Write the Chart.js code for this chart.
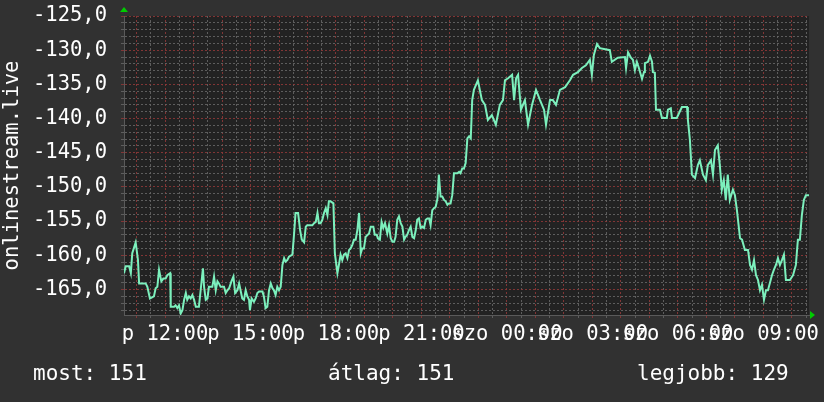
<!DOCTYPE html>
<html>
<head>
<meta charset="utf-8">
<script src="https://cdn.jsdelivr.net/npm/chart.js@4"></script>
<style>
  html, body { margin:0; padding:0; background:#313131; }
  #wrap { position:relative; width:824px; height:402px; }
  canvas { display:block; }
  .stat { position:absolute; top:363px; font-family:"DejaVu Sans Mono", monospace; font-size:21px; line-height:21px; color:#ffffff; white-space:pre; }
</style>
</head>
<body>
<div id="wrap">
  <canvas id="c" width="824" height="402"></canvas>
  <div class="stat" id="s0" style="left:33px"></div>
  <div class="stat" id="s1" style="left:328px"></div>
  <div class="stat" id="s2" style="left:637px"></div>
</div>
<script>
// ---- data (hours relative to 12:00 of the first day) ----
const hours = [
-1.44,-1.38,-1.26,-1.20,-1.15,-1.03,-0.95,-0.91,-0.80,-0.68,-0.62,-0.53,-0.39,-0.33,-0.27,-0.21,-0.13,-0.06,0.02,0.08,
0.18,0.20,0.32,0.37,0.43,0.49,0.55,0.61,0.67,0.73,0.78,0.84,0.90,0.96,1.02,1.08,1.19,1.25,1.33,1.37,
1.43,1.49,1.54,1.66,1.72,1.78,1.84,1.89,1.95,2.07,2.13,2.19,2.25,2.33,2.40,2.46,2.54,2.60,2.65,2.71,
2.77,2.83,2.89,2.95,2.98,3.04,3.12,3.18,3.24,3.30,3.42,3.47,3.53,3.59,3.65,3.71,3.77,3.82,3.88,3.94,
4.00,4.06,4.12,4.18,4.23,4.29,4.35,4.47,4.53,4.58,4.67,4.74,4.80,4.88,4.94,4.99,5.17,5.23,5.29,5.35,
5.40,5.46,5.52,5.58,5.64,5.70,5.75,5.81,5.91,5.96,6.05,6.11,6.16,6.22,6.28,6.34,6.40,6.46,6.51,6.57,
6.63,6.69,6.75,6.81,6.87,6.92,6.98,7.04,7.16,7.22,7.31,7.36,7.43,7.47,7.54,7.60,7.66,7.72,7.80,7.86,
7.92,7.98,8.04,8.09,8.15,8.21,8.27,8.33,8.39,8.44,8.50,8.56,8.62,8.68,8.74,8.80,8.85,8.91,8.97,9.03,
9.09,9.15,9.21,9.27,9.32,9.38,9.44,9.50,9.56,9.61,9.67,9.73,9.79,9.85,9.91,9.96,10.02,10.08,10.14,10.26,
10.32,10.37,10.43,10.49,10.55,10.61,10.67,10.73,10.78,10.84,10.98,11.12,11.23,11.33,11.47,11.61,11.75,11.86,11.93,12.04,
12.18,12.25,12.32,12.39,12.49,12.63,12.74,12.88,13.02,13.16,13.30,13.37,13.51,13.61,13.72,13.86,14.04,14.21,14.32,14.49,
14.63,14.77,14.91,14.98,15.05,15.16,15.26,15.61,15.68,15.89,16.14,16.18,16.25,16.35,16.42,16.49,16.56,16.63,16.74,16.81,
16.84,16.95,17.02,17.09,17.12,17.19,17.23,17.37,17.44,17.61,17.65,17.75,17.79,17.96,18.14,18.32,18.35,18.42,18.49,18.60,
18.70,18.77,18.88,18.98,19.05,19.16,19.23,19.30,19.40,19.47,19.54,19.61,19.68,19.75,19.82,19.93,20.00,20.07,20.18,20.25,
20.35,20.46,20.53,20.60,20.67,20.74,20.81,20.88,20.95,21.02,21.09,21.16,21.23,21.30,21.37,21.44,21.51,21.58,21.65,21.72,
21.79,21.93,22.04,22.14,22.21,22.28,22.35,22.42,22.49,22.60
];
const values = [
-162.6,-161.6,-161.6,-162.6,-159.7,-158.1,-160.7,-164.1,-164.1,-164.1,-164.6,-166.3,-166.0,-164.8,-164.6,-162.1,-163.8,-163.4,-163.4,-162.9,
-162.6,-167.5,-167.5,-167.3,-167.7,-167.3,-168.5,-168.0,-166.5,-165.5,-166.5,-166.0,-166.3,-165.8,-166.5,-167.5,-167.5,-165.1,-161.9,-164.6,
-166.5,-166.3,-164.6,-164.6,-163.1,-165.1,-163.8,-164.1,-164.6,-164.6,-165.5,-165.1,-164.8,-163.8,-163.1,-165.5,-165.1,-164.1,-165.1,-166.3,
-166.5,-165.1,-166.0,-166.5,-168.0,-166.3,-166.8,-166.3,-165.5,-165.3,-165.3,-166.0,-167.7,-167.5,-165.1,-164.1,-164.8,-165.1,-165.8,-164.6,
-165.1,-164.6,-161.4,-160.4,-160.9,-160.7,-160.2,-159.9,-156.8,-153.8,-153.8,-156.3,-157.7,-158.1,-155.8,-155.6,-155.6,-155.3,-155.1,-153.8,
-155.3,-155.3,-154.8,-153.8,-153.1,-154.1,-152.1,-152.1,-152.4,-159.7,-162.6,-161.2,-159.9,-160.7,-159.9,-159.7,-160.4,-159.2,-159.0,-158.5,
-157.7,-157.7,-156.3,-153.8,-159.7,-159.0,-159.0,-157.3,-156.8,-155.8,-155.8,-157.0,-157.0,-157.5,-157.7,-155.1,-156.0,-155.3,-156.8,-155.6,
-157.5,-158.0,-158.0,-157.3,-154.8,-154.3,-155.3,-155.8,-157.7,-157.3,-157.0,-156.3,-155.8,-157.3,-157.5,-156.3,-154.8,-154.6,-156.0,-155.8,
-156.0,-154.8,-154.6,-154.6,-155.6,-153.4,-153.1,-152.9,-151.7,-148.2,-151.4,-151.4,-151.9,-152.1,-152.6,-152.4,-152.4,-151.2,-148.0,-148.0,
-147.8,-148.0,-147.3,-147.3,-146.5,-142.9,-142.6,-142.9,-137.3,-135.8,-134.4,-137.3,-138.0,-140.2,-139.5,-140.9,-138.0,-137.3,-134.4,-134.1,
-133.6,-137.3,-134.1,-133.6,-138.7,-137.3,-140.9,-138.0,-135.8,-137.3,-138.7,-140.9,-137.3,-137.3,-138.0,-135.8,-135.4,-134.4,-133.6,-133.2,
-132.6,-132.2,-131.4,-133.6,-130.7,-129.1,-129.7,-130.0,-131.7,-131.1,-131.0,-132.6,-130.3,-131.1,-131.4,-132.9,-131.7,-132.6,-134.2,-133.2,
-131.9,-131.7,-130.8,-131.7,-133.2,-133.3,-138.7,-138.7,-139.9,-139.9,-138.7,-138.5,-139.9,-139.9,-138.3,-138.3,-140.2,-143.1,-148.2,-148.7,
-146.8,-146.1,-148.2,-149.0,-146.8,-146.1,-148.2,-144.6,-143.9,-146.8,-150.4,-149.0,-151.9,-148.2,-151.9,-150.4,-151.2,-153.4,-157.5,-157.7,
-159.2,-159.2,-161.4,-162.1,-160.7,-162.9,-163.6,-165.1,-164.3,-166.5,-165.1,-165.1,-164.0,-162.9,-162.1,-161.4,-160.4,-161.4,-160.7,-159.9,
-163.6,-163.6,-162.9,-161.4,-157.7,-157.7,-154.1,-151.9,-151.2,-151.2
];
const xLabelHours = [0, 3, 6, 9, 12, 15, 18, 21];
const xLabelNames = ["p 12:00","p 15:00","p 18:00","p 21:00","szo 00:00","szo 03:00","szo 06:00","szo 09:00"];
const yTitle = "onlinestream.live";
const statNames = ["most:", "átlag:", "legjobb:"];
const statValues = [151, 151, 129];

// ---- layout / style ----
const X_MIN = -1.44, X_MAX = 22.60;
const Y_MIN = -168.72, Y_MAX = -125;
const FONT = "'DejaVu Sans Mono', monospace";
const MAJOR = 'rgba(140,55,55,0.9)';
const MINOR = 'rgba(100,100,100,0.9)';

for (let i = 0; i < 3; i++) document.getElementById('s' + i).textContent = statNames[i] + ' ' + statValues[i];

const plotBg = {
  id: 'plotBg',
  beforeDraw(chart) {
    const {ctx, chartArea: a} = chart;
    ctx.save(); ctx.fillStyle = '#222222';
    ctx.fillRect(a.left, a.top, a.right - a.left, a.bottom - a.top);
    ctx.restore();
  },
  afterDraw(chart) {
    const {ctx, chartArea: a} = chart;
    ctx.save(); ctx.fillStyle = '#00cc00';
    ctx.beginPath();
    ctx.moveTo(a.left - 4, a.top - 4); ctx.lineTo(a.left + 4, a.top - 4); ctx.lineTo(a.left, a.top - 9); ctx.closePath(); ctx.fill();
    ctx.beginPath();
    ctx.moveTo(a.right + 1, a.bottom - 4); ctx.lineTo(a.right + 1, a.bottom + 4); ctx.lineTo(a.right + 6, a.bottom); ctx.closePath(); ctx.fill();
    ctx.restore();
  }
};

function steps(scale, step) {
  const t = [];
  const start = Math.ceil(scale.min / step - 1e-9);
  const end = Math.floor(scale.max / step + 1e-9);
  for (let k = start; k <= end; k++) t.push({value: Math.round(k * step * 100) / 100});
  return t;
}
const isMajorX = v => Math.abs(v - Math.round(v)) < 1e-6;
const isMajorY = v => Math.abs(v / 5 - Math.round(v / 5)) < 1e-6;

new Chart(document.getElementById('c'), {
  type: 'line',
  data: {
    datasets: [{
      data: hours.map((h, i) => ({x: h, y: values[i]})),
      borderColor: '#7cf0bd',
      borderWidth: 2,
      pointRadius: 0,
      tension: 0,
      fill: false
    }]
  },
  options: {
    responsive: false,
    animation: false,
    events: [],
    layout: { padding: { top: 16, right: 15, left: 0, bottom: 0 } },
    plugins: { legend: { display: false }, tooltip: { enabled: false } },
    scales: {
      x: {
        type: 'linear', min: X_MIN, max: X_MAX,
        afterBuildTicks: s => { s.ticks = steps(s, 0.5); },
        afterFit: s => { s.height = 87; s.paddingLeft = 0; s.paddingRight = 0; },
        ticks: {
          autoSkip: false, maxRotation: 0, minRotation: 0, padding: 4,
          color: '#ffffff', font: { family: FONT, size: 20.5 },
          callback: v => { const k = xLabelHours.findIndex(h => Math.abs(h - v) < 1e-6); return k >= 0 ? xLabelNames[k] : ''; }
        },
        grid: {
          color: c => (isMajorX(c.tick.value) ? MAJOR : MINOR),
          lineWidth: 1, tickLength: 3, drawTicks: true
        },
        border: { display: true, color: '#5a5a5a', width: 1, dash: [2, 2] }
      },
      y: {
        type: 'linear', min: Y_MIN, max: Y_MAX,
        afterBuildTicks: s => { s.ticks = steps(s, 1); },
        afterFit: s => { s.width = 124; s.paddingTop = 0; s.paddingBottom = 0; },
        ticks: {
          autoSkip: false, padding: 14, color: '#ffffff', font: { family: FONT, size: 20.5 },
          callback: v => (isMajorY(v) ? v.toFixed(1).replace('.', ',') : '')
        },
        grid: {
          color: c => (isMajorY(c.tick.value) ? MAJOR : MINOR),
          lineWidth: 1, tickLength: 3, drawTicks: true
        },
        border: { display: true, color: '#5a5a5a', width: 1, dash: [2, 2] },
        title: {
          display: true, text: yTitle, color: '#ffffff',
          font: { family: FONT, size: 20.5 }, padding: { top: 0, bottom: 0 }
        }
      }
    }
  },
  plugins: [plotBg]
});
</script>
</body>
</html>
